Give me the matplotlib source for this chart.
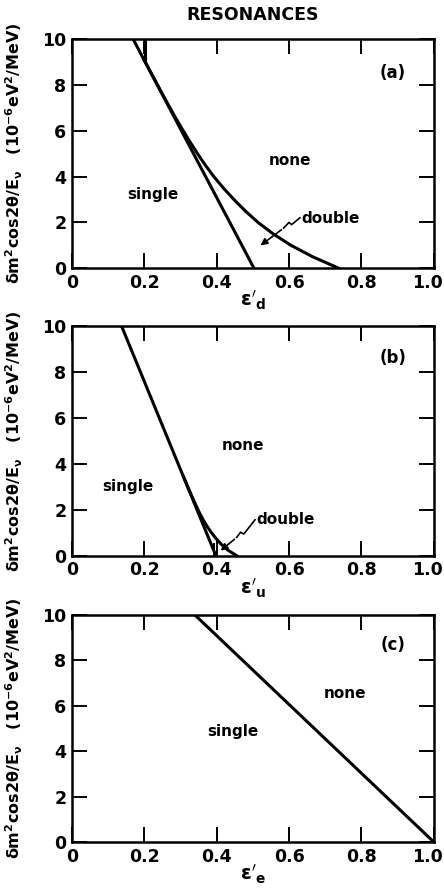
import numpy as np
import matplotlib.pyplot as plt
from matplotlib.transforms import ScaledTranslation

plt.rcParams['font.family'] = ['DejaVu Sans']
plt.rcParams['font.weight'] = 'bold'
plt.rcParams['mathtext.fontset'] = 'dejavusans'
plt.rcParams['mathtext.default'] = 'bf'

# panel (a): epsilon'_d
a_line_x = [0.169, 0.503]
a_line_y = [10, 0]
a_curve_x = [0.199, 0.2195, 0.2364, 0.2535, 0.2709, 0.2888, 0.3074, 0.3268, 0.347,
             0.3685, 0.392, 0.4185, 0.4475, 0.479, 0.514, 0.556, 0.605, 0.665, 0.737]
a_curve_y = [9.1, 8.5, 8.0, 7.5, 7.0, 6.5, 6.0, 5.5, 5.0,
             4.5, 4.0, 3.5, 3.0, 2.5, 2.0, 1.5, 1.0, 0.5, 0.0]
a_vert_x = [0.201, 0.201]
a_vert_y = [10, 9.1]
a_arrow_x = [0.630, 0.607, 0.600, 0.585]
a_arrow_y = [2.2, 1.9, 2.0, 1.75]
a_head = (0.515, 0.92)

# panel (b): epsilon'_u
b_line_x = [0.137, 0.398]
b_line_y = [10, 0]
b_curve_x = [0.3067, 0.3202, 0.334, 0.3485, 0.3565, 0.3652, 0.375, 0.386,
             0.3985, 0.413, 0.431, 0.456]
b_curve_y = [3.5, 3.0, 2.5, 2.0, 1.75, 1.5, 1.25, 1.0, 0.75, 0.5, 0.25, 0.0]
b_vert_x = [0.392, 0.392]
b_vert_y = [0, 0.5]
b_arrow_x = [0.506, 0.475, 0.466, 0.455]
b_arrow_y = [1.57, 0.95, 1.03, 0.8]
b_head = (0.405, 0.15)

# panel (c): epsilon'_e
c_line_x = [0.34, 1.0]
c_line_y = [10, 0]

xticks = [0, 0.2, 0.4, 0.6, 0.8, 1.0]
xticklabels = ['0', '0.2', '0.4', '0.6', '0.8', '1.0']
yticks = [0, 2, 4, 6, 8, 10]
yticklabels = ['0', '2', '4', '6', '8', '10']

ylab = r'$\delta m^2cos2\theta/E_\nu\ \ \ (10^{-6}eV^2/MeV)$'

fig = plt.figure(figsize=(4.44, 8.88), dpi=100)
rects = [[0.162, 0.698, 0.815, 0.258],
         [0.162, 0.374, 0.815, 0.259],
         [0.162, 0.0518, 0.815, 0.2556]]
axs = [fig.add_axes(r) for r in rects]

for ax in axs:
    ax.set_xlim(0, 1)
    ax.set_ylim(0, 10)
    ax.set_xticks(xticks)
    ax.set_xticklabels(xticklabels)
    ax.set_yticks(yticks)
    ax.set_yticklabels(yticklabels)
    ax.tick_params(direction='in', length=11, width=1.4, top=True, right=True,
                   labelsize=12.5, pad=4)
    last = ax.get_xticklabels()[-1]
    last.set_transform(last.get_transform() + ScaledTranslation(-6 / 100, 0, fig.dpi_scale_trans))
    for s in ax.spines.values():
        s.set_linewidth(1.8)
    ax.set_ylabel(ylab, fontsize=11.5)
    ax.yaxis.set_label_coords(-0.13, 0.5)

lw = 2.2
ax = axs[0]
ax.plot(a_line_x, a_line_y, 'k-', lw=lw)
ax.plot(a_curve_x, a_curve_y, 'k-', lw=lw)
ax.plot(a_vert_x, a_vert_y, 'k-', lw=lw)
ax.plot(a_arrow_x, a_arrow_y, 'k-', lw=1.2)
ax.annotate('', xy=a_head, xytext=(a_arrow_x[-1], a_arrow_y[-1]),
            arrowprops=dict(arrowstyle='-|>', color='k', lw=1.2, mutation_scale=10))
ax.text(0.887, 8.5, '(a)', fontsize=12, ha='center', va='center')
ax.text(0.602, 4.7, 'none', fontsize=11, ha='center', va='center')
ax.text(0.225, 3.2, 'single', fontsize=11, ha='center', va='center')
ax.text(0.635, 2.18, 'double', fontsize=11, ha='left', va='center')
ax.set_xlabel(r"$\epsilon'_d$", fontsize=14, labelpad=-2)
ax.set_title('RESONANCES', fontsize=12.5, fontweight='bold', pad=14)

ax = axs[1]
ax.plot(b_line_x, b_line_y, 'k-', lw=lw)
ax.plot(b_curve_x, b_curve_y, 'k-', lw=lw)
ax.plot(b_vert_x, b_vert_y, 'k-', lw=1.4)
ax.plot(b_arrow_x, b_arrow_y, 'k-', lw=1.2)
ax.annotate('', xy=b_head, xytext=(b_arrow_x[-1], b_arrow_y[-1]),
            arrowprops=dict(arrowstyle='-|>', color='k', lw=1.2, mutation_scale=10))
ax.text(0.887, 8.6, '(b)', fontsize=12, ha='center', va='center')
ax.text(0.473, 4.8, 'none', fontsize=11, ha='center', va='center')
ax.text(0.155, 3.0, 'single', fontsize=11, ha='center', va='center')
ax.text(0.51, 1.6, 'double', fontsize=11, ha='left', va='center')
ax.set_xlabel(r"$\epsilon'_u$", fontsize=14, labelpad=-2)

ax = axs[2]
ax.plot(c_line_x, c_line_y, 'k-', lw=lw)
ax.text(0.887, 8.7, '(c)', fontsize=12, ha='center', va='center')
ax.text(0.754, 6.56, 'none', fontsize=11, ha='center', va='center')
ax.text(0.445, 4.85, 'single', fontsize=11, ha='center', va='center')
ax.set_xlabel(r"$\epsilon'_e$", fontsize=14, labelpad=-2)

fig.savefig('out.png', dpi=100)
